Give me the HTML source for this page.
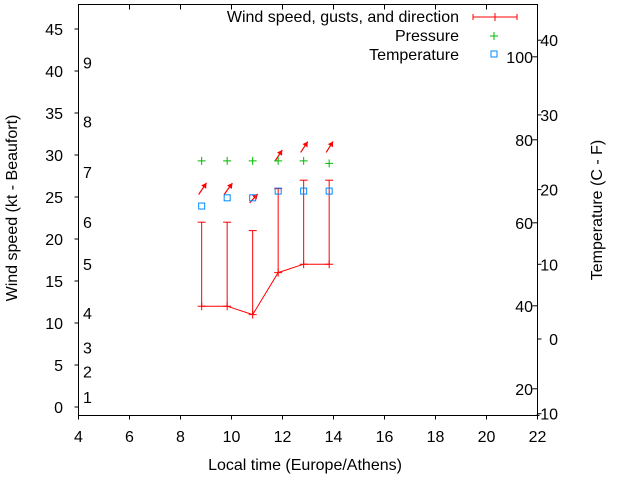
<!DOCTYPE html>
<html><head><meta charset="utf-8"><style>
body{margin:0;background:#fff}
svg text{font-family:"Liberation Sans",sans-serif;font-size:16px;fill:#000}
</style></head><body>
<svg id="c" width="640" height="480" xmlns="http://www.w3.org/2000/svg"></svg>
<script>
const times=[8.83,9.83,10.83,11.83,12.83,13.83];
const speed=[12,12,11,16,17,17];
const gusts=[22,22,21,26,27,27];
const direction=[214,216,222,213,213,212];
const arrowLen=[14,14,12,13,13,13];
const pressure=[29.3,29.3,29.3,29.3,29.3,29.0];
const tempC=[17.8,18.9,18.9,19.8,19.8,19.8];
const xTicks=[4,6,8,10,12,14,16,18,20,22];
const yTicks=[0,5,10,15,20,25,30,35,40,45];
const cTicks=[-10,0,10,20,30,40];
const fTicks=[20,40,60,80,100];
const beaufortLabels=[1,2,3,4,5,6,7,8,9];
const beaufortKt=[1.2,4.2,7.1,11.2,17,22,28,34,41];
const L=78.5,R=537.5,T=4.5,B=415.5;
const X=v=>L+(v-4)/18*(R-L);
const Y=v=>407-v*8.4;
const YC=v=>339-v*7.47;
const YF=f=>YC((f-32)*5/9);
const svg=document.getElementById('c');
function el(t,a,txt){const e=document.createElementNS('http://www.w3.org/2000/svg',t);for(const k in a)e.setAttribute(k,a[k]);if(txt!==undefined)e.textContent=txt;svg.appendChild(e);return e;}
let e;
e=el('rect',{x:L,y:T,width:R-L,height:B-T,fill:'none',stroke:'#000','stroke-width':1});


xTicks.forEach(v=>{
 e=el('line',{x1:X(v),x2:X(v),y1:B,y2:B+4,stroke:'#000'});
 e=el('line',{x1:X(v),x2:X(v),y1:T,y2:T+5,stroke:'#000'});
 e=el('text',{x:X(v),y:442,'text-anchor':'middle'},v);
});
yTicks.forEach(v=>{
 e=el('line',{x1:L-4,x2:L,y1:Y(v),y2:Y(v),stroke:'#000'});
 e=el('text',{x:63,y:Y(v)+6,'text-anchor':'end'},v);
});
cTicks.forEach(v=>{
 e=el('line',{x1:R,x2:R+4,y1:YC(v),y2:YC(v),stroke:'#000'});
 e=el('text',{x:558,y:YC(v)+6,'text-anchor':'end'},v);
});
fTicks.forEach(v=>{
 e=el('line',{x1:R-5,x2:R,y1:YF(v),y2:YF(v),stroke:'#000'});
 e=el('text',{x:533,y:YF(v)+6,'text-anchor':'end'},v);
});
beaufortLabels.forEach((b,i)=>{
 e=el('text',{x:83,y:Y(beaufortKt[i])+6},b);
});
e=el('text',{x:305,y:470,'text-anchor':'middle'},'Local time (Europe/Athens)');
e=el('text',{x:0,y:0,'text-anchor':'middle',transform:'translate(17,208) rotate(-90)'},'Wind speed (kt - Beaufort)');
e=el('text',{x:0,y:0,'text-anchor':'middle',transform:'translate(602,210) rotate(-90)'},'Temperature (C - F)');
e=el('polyline',{points:times.map((t,i)=>X(t)+','+Y(speed[i])).join(' '),fill:'none',stroke:'#f00'});
times.forEach((t,i)=>{
 const x=X(t);
 e=el('line',{x1:x,x2:x,y1:Y(speed[i]),y2:Y(gusts[i]),stroke:'#f00'});
 e=el('line',{x1:x-4,x2:x+4,y1:Y(gusts[i]),y2:Y(gusts[i]),stroke:'#f00'});
 e=el('path',{d:`M${x-4} ${Y(speed[i])}h8M${x} ${Y(speed[i])-4}v8`,stroke:'#f00'});
 const bx=x-3,by=Y(gusts[i]+3.3);
 const a=(direction[i]+180)*Math.PI/180;
 const ex=bx+arrowLen[i]*Math.sin(a),ey=by-arrowLen[i]*Math.cos(a);
 const ux=(ex-bx)/arrowLen[i],uy=(ey-by)/arrowLen[i];
 e=el('line',{x1:bx,y1:by,x2:ex,y2:ey,stroke:'#f00','stroke-width':1.2});
 const hx=ex-5*ux,hy=ey-5*uy;
 e=el('polygon',{points:`${ex},${ey} ${hx-3*uy},${hy+3*ux} ${hx+3*uy},${hy-3*ux}`,fill:'#f00'});
 const py=Y(pressure[i]);
 e=el('path',{d:`M${x-4} ${py}h8M${x} ${py-4}v8`,stroke:'#0b0'});
 const ty=YC(tempC[i]);
 e=el('rect',{x:x-3,y:ty-3,width:6,height:6,fill:'none',stroke:'#08f'});
});
e=el('text',{x:459,y:22,'text-anchor':'end'},'Wind speed, gusts, and direction');
e=el('path',{d:'M473 17h44M473 14v6M517 14v6M495 13v8',stroke:'#f00'});
e=el('text',{x:459,y:41,'text-anchor':'end'},'Pressure');
e=el('path',{d:'M490 36h8M494 32v8',stroke:'#0b0'});
e=el('text',{x:459,y:60,'text-anchor':'end'},'Temperature');
e=el('rect',{x:491,y:51,width:6,height:6,fill:'none',stroke:'#08f'});
</script>
</body></html>
